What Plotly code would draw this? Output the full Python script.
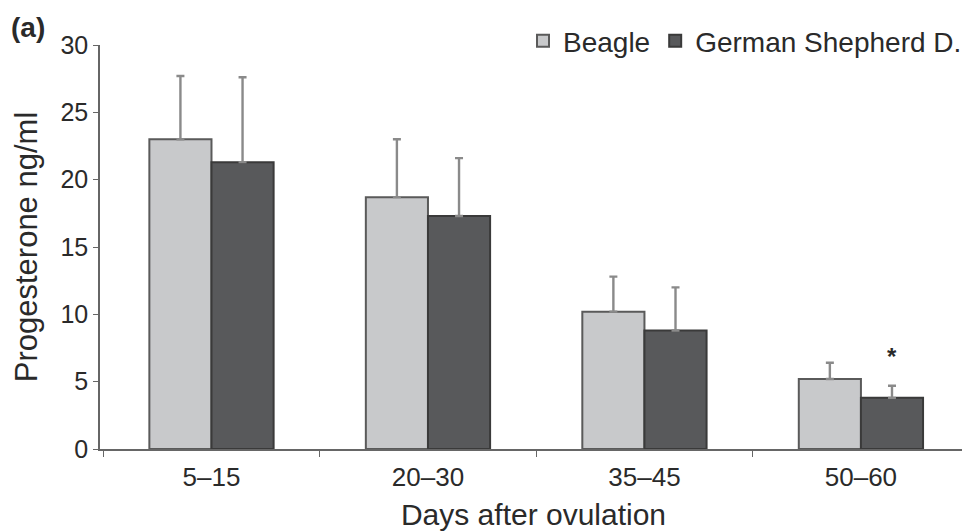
import plotly.graph_objects as go

categories = ["5–15", "20–30", "35–45", "50–60"]
beagle = [23.0, 18.7, 10.2, 5.2]
beagle_err = [4.7, 4.3, 2.6, 1.2]
gsd = [21.3, 17.3, 8.8, 3.8]
gsd_err = [6.3, 4.3, 3.2, 0.9]
star_y = 7.1

font_family = "Liberation Sans, Arial, sans-serif"
txt = "#2a2a2a"

fig = go.Figure()
fig.add_trace(go.Bar(
    name="Beagle", x=categories, y=beagle,
    marker=dict(color="#c8c9cb", line=dict(color="#5a5a5a", width=2)),
    error_y=dict(type="data", array=beagle_err, symmetric=False,
                 arrayminus=[0]*4, color="#8a8a8a", thickness=2.4, width=4),
))
fig.add_trace(go.Bar(
    name="German Shepherd D.", x=categories, y=gsd,
    marker=dict(color="#58595b", line=dict(color="#3a3a3a", width=2)),
    error_y=dict(type="data", array=gsd_err, symmetric=False,
                 arrayminus=[0]*4, color="#8a8a8a", thickness=2.4, width=4),
))

fig.add_annotation(x=3, y=star_y, xref="x", yref="y", text="<b>*</b>", showarrow=False,
                   xshift=31, yshift=-3, font=dict(size=24, color=txt, family=font_family))
fig.add_annotation(x=-0.104, y=1.043, xref="paper", yref="paper", text="<b>(a)</b>",
                   xanchor="left", yanchor="middle", borderpad=0,
                   showarrow=False, font=dict(size=28, color=txt, family=font_family))

fig.update_layout(
    width=962, height=523,
    margin=dict(l=92, r=3, t=37, b=82, autoexpand=False),
    plot_bgcolor="white", paper_bgcolor="white",
    barmode="group", bargap=0.426, bargroupgap=0,
    font=dict(family=font_family, color=txt, size=25),
    showlegend=True,
    legend=dict(orientation="h", x=1.0, y=1.01, xanchor="right", yanchor="middle",
                font=dict(size=28, color=txt), itemwidth=30, tracegroupgap=0,
                bgcolor="rgba(0,0,0,0)"),
    xaxis=dict(showline=True, linecolor="#666", linewidth=1.5, ticks="outside",
               tickson="boundaries", ticklen=6, tickcolor="#666",
               title=dict(text="Days after ovulation", font=dict(size=30), standoff=26),
               tickfont=dict(size=26), ticklabelstandoff=4, range=[-0.515, 3.49]),
    yaxis=dict(range=[0, 30], dtick=5, showline=True, linecolor="#666", linewidth=1.5,
               ticks="outside", ticklen=5, tickcolor="#666", showgrid=False, zeroline=False,
               title=dict(text="Progesterone ng/ml", font=dict(size=31), standoff=14),
               tickfont=dict(size=25)),
)

fig.write_html("out.html")
